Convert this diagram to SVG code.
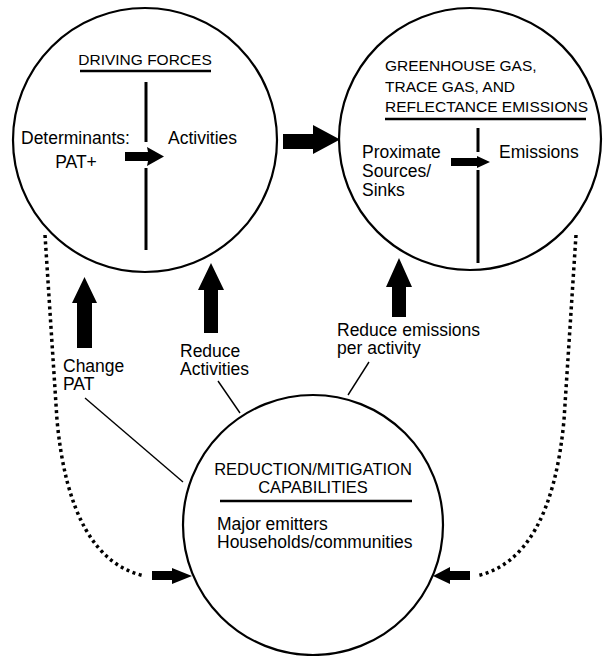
<svg xmlns="http://www.w3.org/2000/svg" width="604" height="656" viewBox="0 0 604 656">
<style>
.c{fill:none;stroke:#000;stroke-width:2.2}
.t{font-family:"Liberation Sans",Arial,sans-serif;font-size:17.5px;fill:#000}
.h{font-family:"Liberation Sans",Arial,sans-serif;font-size:15.5px;fill:#000}
.u{stroke:#000;stroke-width:2.6}
.v{stroke:#000;stroke-width:3}
.thin{stroke:#000;stroke-width:1.4;fill:none}
.dot{fill:none;stroke:#000;stroke-width:3.5;stroke-dasharray:3 3.5}
.a{fill:#000}
</style>
<rect width="604" height="656" fill="#fff"/>
<g id="driving-forces">
<circle class="c" cx="145" cy="140" r="132"/>
<text class="h" x="145" y="65" text-anchor="middle">DRIVING FORCES</text>
<line class="u" x1="80" y1="71" x2="211" y2="71"/>
<line class="v" x1="146" y1="82" x2="146" y2="142"/>
<line class="v" x1="146" y1="168" x2="146" y2="250"/>
<text class="t" x="21" y="144">Determinants:</text>
<text class="t" x="76" y="168" text-anchor="middle">PAT+</text>
<text class="t" x="168" y="144">Activities</text>
<polygon class="a" points="125,152 148,152 147,147 164,156.5 147,166 148,161 125,161"/>
</g>
<g id="emissions">
<circle class="c" cx="470" cy="139" r="131"/>
<text class="h" x="385" y="71">GREENHOUSE GAS,</text>
<text class="h" x="385" y="92">TRACE GAS, AND</text>
<text class="h" x="385" y="112">REFLECTANCE EMISSIONS</text>
<line class="u" x1="385" y1="119" x2="586" y2="119"/>
<line class="v" x1="478" y1="128" x2="478" y2="152"/>
<line class="v" x1="478" y1="170" x2="478" y2="263"/>
<text class="t" x="362" y="158">Proximate</text>
<text class="t" x="362" y="177">Sources/</text>
<text class="t" x="362" y="196">Sinks</text>
<text class="t" x="499" y="158">Emissions</text>
<polygon class="a" points="451,158 477,158 477,156 490,162 477,168 477,166 451,166"/>
</g>
<g id="reduction">
<circle class="c" cx="313" cy="525" r="130"/>
<text class="t" style="font-size:16.5px" x="313" y="475" text-anchor="middle">REDUCTION/MITIGATION</text>
<text class="t" style="font-size:16.5px" x="313" y="493" text-anchor="middle">CAPABILITIES</text>
<line class="u" x1="220" y1="501" x2="412" y2="501"/>
<text class="t" x="217" y="530">Major emitters</text>
<text class="t" x="217" y="548">Households/communities</text>
</g>
<g id="connectors">
<polygon class="a" points="283,134 313,134 313,125 340,139.5 313,154 313,149 283,149"/>
<polygon class="a" points="77,348 77,303 72,303 84.5,277 97,303 92,303 92,348"/>
<polygon class="a" points="204,333 204,290 198,290 211,263 224,290 218,290 218,333"/>
<polygon class="a" points="392,317 392,287 386,287 399,258 412,287 406,287 406,317"/>
<path class="dot" d="M45,235 L57,420 Q70,560 145,576"/>
<path class="dot" d="M576,235 L564,420 Q551,560 476,576"/>
<polygon class="a" points="152,571 172,571 172,568 192,576 172,584 172,580 152,580"/>
<polygon class="a" points="470,571 450,571 450,567 433,576 450,584 450,580 470,580"/>
<line class="thin" x1="85" y1="398" x2="183" y2="482"/>
<line class="thin" x1="218" y1="381" x2="240" y2="413"/>
<line class="thin" x1="369" y1="362" x2="348" y2="395"/>
</g>
<g id="labels">
<text class="t" x="63" y="372">Change</text>
<text class="t" x="63" y="390">PAT</text>
<text class="t" x="180" y="357">Reduce</text>
<text class="t" x="180" y="375">Activities</text>
<text class="t" x="337" y="336">Reduce emissions</text>
<text class="t" x="337" y="354">per activity</text>
</g>
</svg>
